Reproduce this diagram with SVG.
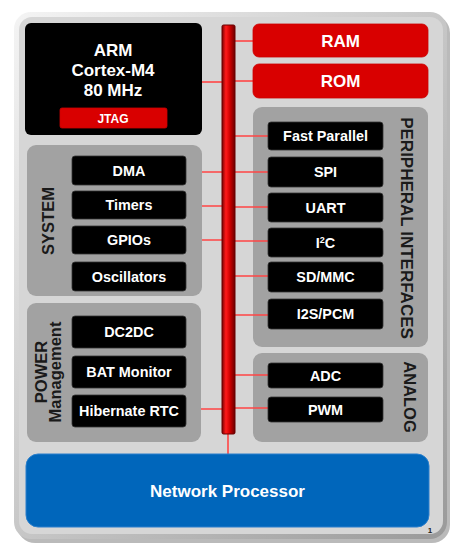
<svg xmlns="http://www.w3.org/2000/svg" width="464" height="557" viewBox="0 0 464 557">
<defs>
<linearGradient id="busg" x1="0" y1="0" x2="1" y2="0">
<stop offset="0" stop-color="#7a0000"/>
<stop offset="0.3" stop-color="#ff1a1a"/>
<stop offset="0.6" stop-color="#d00000"/>
<stop offset="1" stop-color="#6a0000"/>
</linearGradient>
<linearGradient id="frameg" x1="0" y1="0" x2="1" y2="1">
<stop offset="0" stop-color="#f4f4f4"/>
<stop offset="1" stop-color="#9a9a9a"/>
</linearGradient>
<style>
text{font-family:"Liberation Sans",Arial,sans-serif;font-weight:bold;}
.blk{fill:#000;stroke:#333;stroke-width:0.8;}
.grp{fill:#a2a2a2;}
.red{fill:#d90000;stroke:#c00;stroke-width:0.8;}
.wt{fill:#fff;font-size:14.4px;text-anchor:middle;}
.big{fill:#fff;font-size:17px;text-anchor:middle;}
.lbl{fill:#1a1a1a;font-size:16.5px;text-anchor:middle;}
.con{stroke:#ff4545;stroke-width:1.6;fill:none;}
</style>
</defs>
<!-- frame -->
<rect x="17" y="15" width="433" height="528" rx="18" fill="#9c9c9c" opacity="0.7"/>
<rect x="14" y="12" width="433" height="527" rx="17" fill="url(#frameg)"/>
<rect x="19" y="17" width="424" height="517" rx="13" fill="#d6d6d6"/>

<g id="connectors">
<line class="con" x1="202" y1="82" x2="222" y2="82"/>
<line class="con" x1="235" y1="41" x2="253" y2="41"/>
<line class="con" x1="235" y1="81" x2="253" y2="81"/>
<line class="con" x1="186" y1="172" x2="222" y2="172"/>
<line class="con" x1="186" y1="206" x2="222" y2="206"/>
<line class="con" x1="186" y1="240" x2="222" y2="240"/>
<line class="con" x1="186" y1="409" x2="222" y2="409"/>
<line class="con" x1="228" y1="434" x2="228" y2="454"/>
</g>

<g id="system">
<rect class="grp" x="27" y="145" width="175" height="151" rx="9"/>
<text class="lbl" transform="translate(54,221) rotate(-90)">SYSTEM</text>
</g>
<g id="power">
<rect class="grp" x="27" y="303" width="174" height="139" rx="9"/>
<text class="lbl" transform="translate(47,372) rotate(-90)">POWER</text>
<text class="lbl" transform="translate(61,372) rotate(-90)">Management</text>
</g>
<g id="peripheral">
<rect class="grp" x="253" y="107" width="175" height="240" rx="9"/>
<text class="lbl" font-size="17" style="font-size:17px" transform="translate(401,228) rotate(90)">PERIPHERAL INTERFACES</text>
</g>
<g id="analog">
<rect class="grp" x="253" y="353" width="175" height="89" rx="9"/>
<text class="lbl" transform="translate(404,397) rotate(90)">ANALOG</text>
</g>

<g id="connectors-periph">
<line class="con" x1="235" y1="136" x2="268" y2="136"/>
<line class="con" x1="235" y1="172" x2="268" y2="172"/>
<line class="con" x1="235" y1="207" x2="268" y2="207"/>
<line class="con" x1="235" y1="241" x2="268" y2="241"/>
<line class="con" x1="235" y1="276" x2="268" y2="276"/>
<line class="con" x1="235" y1="315" x2="268" y2="315"/>
<line class="con" x1="235" y1="375" x2="268" y2="375"/>
<line class="con" x1="235" y1="408" x2="268" y2="408"/>
</g>

<g id="arm">
<rect x="25" y="23" width="177" height="112" rx="6" fill="#000"/>
<text class="big" x="113" y="56">ARM</text>
<text class="big" x="113" y="76">Cortex-M4</text>
<text class="big" x="113" y="96">80 MHz</text>
</g>
<g id="jtag">
<rect class="red" x="60" y="108" width="107" height="20" rx="2"/>
<text x="113" y="122.5" fill="#fff" font-size="12" text-anchor="middle">JTAG</text>
</g>

<g id="bus">
<rect x="222" y="25" width="13" height="409" rx="1.5" fill="url(#busg)" stroke="#6a0000" stroke-width="1"/>
</g>

<g id="ram"><rect class="red" x="253" y="24" width="175" height="33" rx="6"/><text class="big" x="340.5" y="47">RAM</text></g>
<g id="rom"><rect class="red" x="253" y="64" width="175" height="34" rx="6"/><text class="big" x="340.5" y="87">ROM</text></g>

<g id="dma"><rect class="blk" x="72" y="156" width="114" height="29" rx="3"/><text class="wt" x="129" y="175.5">DMA</text></g>
<g id="timers"><rect class="blk" x="72" y="191" width="114" height="28" rx="3"/><text class="wt" x="129" y="210">Timers</text></g>
<g id="gpios"><rect class="blk" x="72" y="226" width="114" height="28" rx="3"/><text class="wt" x="129" y="245">GPIOs</text></g>
<g id="oscillators"><rect class="blk" x="72" y="262" width="114" height="29" rx="3"/><text class="wt" x="129" y="281.5">Oscillators</text></g>

<g id="dc2dc"><rect class="blk" x="72" y="316" width="114" height="32" rx="3"/><text class="wt" x="129" y="337">DC2DC</text></g>
<g id="bat"><rect class="blk" x="72" y="356" width="114" height="32" rx="3"/><text class="wt" x="129" y="377">BAT Monitor</text></g>
<g id="rtc"><rect class="blk" x="72" y="395" width="114" height="32" rx="3"/><text class="wt" x="129" y="416">Hibernate RTC</text></g>

<g id="fastparallel"><rect class="blk" x="268" y="122" width="115" height="28" rx="3"/><text class="wt" x="325.5" y="141">Fast Parallel</text></g>
<g id="spi"><rect class="blk" x="268" y="157" width="115" height="30" rx="3"/><text class="wt" x="325.5" y="177">SPI</text></g>
<g id="uart"><rect class="blk" x="268" y="193" width="115" height="29" rx="3"/><text class="wt" x="325.5" y="212.5">UART</text></g>
<g id="i2c"><rect class="blk" x="268" y="228" width="115" height="29" rx="3"/><text class="wt" x="325.5" y="247.5">I<tspan font-size="9" dy="-5">2</tspan><tspan dy="5">C</tspan></text></g>
<g id="sdmmc"><rect class="blk" x="268" y="262" width="115" height="30" rx="3"/><text class="wt" x="325.5" y="282">SD/MMC</text></g>
<g id="i2spcm"><rect class="blk" x="268" y="299" width="115" height="30" rx="3"/><text class="wt" x="325.5" y="319">I2S/PCM</text></g>

<g id="adc"><rect class="blk" x="268" y="363" width="115" height="25" rx="3"/><text class="wt" x="325.5" y="380.5">ADC</text></g>
<g id="pwm"><rect class="blk" x="268" y="397" width="115" height="25" rx="3"/><text class="wt" x="325.5" y="414.5">PWM</text></g>

<g id="network">
<rect x="26" y="454" width="403" height="73" rx="12" fill="#0066bb" stroke="#2a7fcc" stroke-width="1"/>
<text class="big" x="227.5" y="497">Network Processor</text>
</g>
<text x="430" y="533" font-size="8" fill="#222" text-anchor="middle">1</text>
</svg>
